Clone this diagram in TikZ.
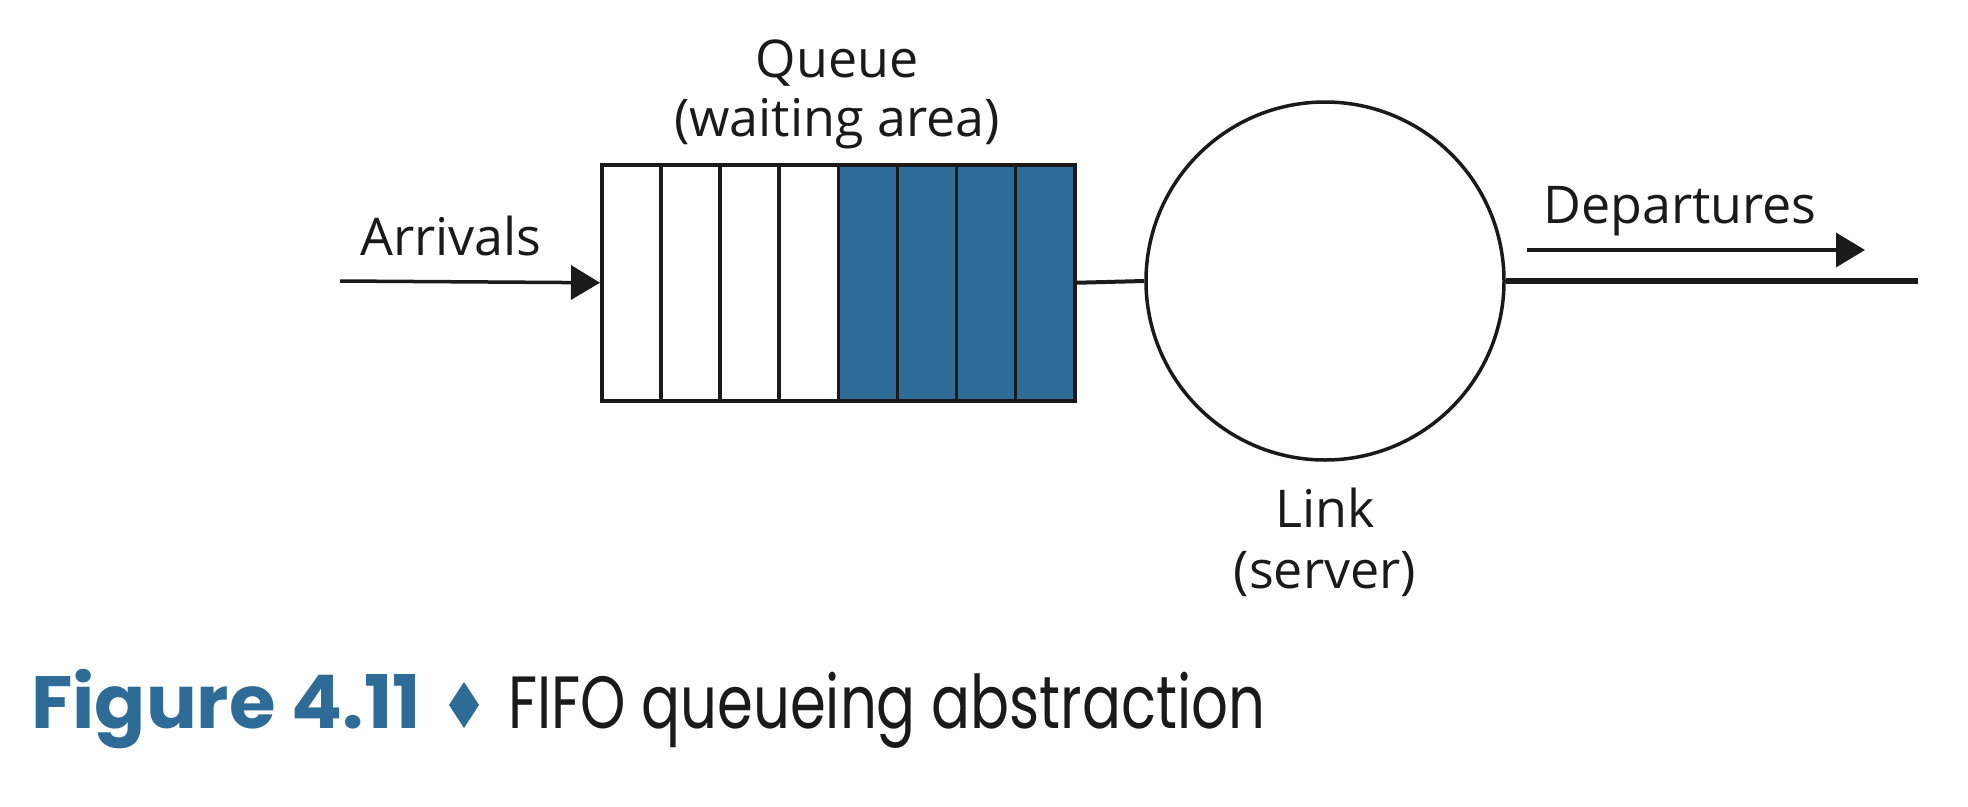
\documentclass[tikz,border=0pt]{standalone}
\usepackage{fontspec}
\usepackage{graphicx}
\setmainfont{Open Sans}
\newfontfamily\capfont{Poppins}
\usetikzlibrary{arrows.meta}
\definecolor{qblue}{HTML}{2E6B96}
\definecolor{ink}{HTML}{1A1A1A}
\begin{document}
\begin{tikzpicture}[x=1pt,y=-1pt,
  lbl/.style={anchor=base,inner sep=0pt,font=\fontsize{52}{62}\selectfont,text=ink},
  cellbox/.style={draw=ink,line width=3.5pt,minimum width=59.125pt,minimum height=236pt,inner sep=0pt,anchor=north west},
  conn/.style={draw=ink,line width=3.5pt},
  tipped/.style={-{Triangle[length=29pt,width=34pt]}}]
\useasboundingbox (0,0) rectangle (1968,806);
\foreach \i in {0,...,3}{
  \node[cellbox,fill=white] (c\i) at ({600+59.125*\i},163) {};
}
\foreach \i in {4,...,7}{
  \node[cellbox,fill=qblue] (c\i) at ({600+59.125*\i},163) {};
}
\node[circle,draw=ink,line width=3.5pt,minimum size=358pt,inner sep=0pt] (link) at (1325,281) {};
\coordinate (arrstart) at (340,281);
\draw[conn,tipped] (arrstart) -- (c0.west);
\draw[conn,line width=4pt] (c7.east) -- (link.west);
\coordinate (out) at (1918,281);
\draw[draw=ink,line width=5.5pt] (link.east) -- (out);
\coordinate (d1) at (1527,250);
\coordinate (d2) at (1865,250);
\draw[conn,tipped] (d1) -- (d2);
\node[lbl] (queue) at (837,77) {Queue};
\node[lbl] (waiting) at (837,136) {(waiting area)};
\node[lbl] (arrivals) at (451,255) {Arrivals};
\node[lbl] (departures) at (1680,223) {Departures};
\node[lbl] (linklbl) at (1325,527) {Link};
\node[lbl] (server) at (1325,588) {(server)};
\node[anchor=base west,inner sep=0pt,font=\capfont\bfseries\fontsize{74}{80}\selectfont,text=qblue] (fig) at (31,728) {\scalebox{1.02}[1]{Figure 4.11}};
\fill[qblue] (464,682) -- (479,705) -- (464,728) -- (449,705) -- cycle;
\node[anchor=base west,inner sep=0pt,font=\capfont\fontsize{74}{80}\selectfont,text=ink] (captxt) at (508,728) {\scalebox{0.78}[1]{FIFO queueing abstraction}};
\end{tikzpicture}
\end{document}
